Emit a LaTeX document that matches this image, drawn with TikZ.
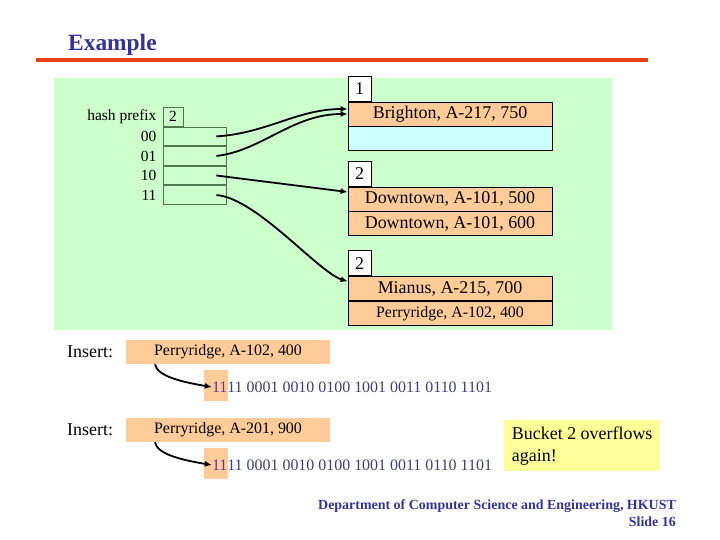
\documentclass[tikz,border=0pt]{standalone}
\usepackage{fontspec}
\setmainfont{Liberation Serif}
\usetikzlibrary{positioning, arrows.meta}
\definecolor{slideblue}{RGB}{51,51,153}
\definecolor{rulered}{RGB}{232,64,16}
\definecolor{bggreen}{RGB}{204,255,204}
\definecolor{recorange}{RGB}{255,204,153}
\definecolor{emptycyan}{RGB}{204,255,255}
\definecolor{noteyellow}{RGB}{255,255,153}
\definecolor{dirline}{RGB}{80,120,80}
\definecolor{bitcolor}{RGB}{64,64,112}
\definecolor{bitprefix}{RGB}{102,51,153}
\newcommand{\titlefont}{\fontsize{23.5}{28}\selectfont\bfseries}
\newcommand{\recfont}{\fontsize{18}{21.5}\selectfont}
\newcommand{\smallrecfont}{\fontsize{16}{19}\selectfont}
\newcommand{\dirfont}{\fontsize{15.5}{18}\selectfont}
\newcommand{\footfont}{\fontsize{14}{17}\selectfont\bfseries}
\tikzset{%
  record/.style={draw, line width=0.8bp, fill=recorange, minimum width=204bp,
    minimum height=24bp, inner sep=0pt, font=\recfont},
  emptyrec/.style={record, fill=emptycyan},
  depthbox/.style={draw, line width=0.8bp, fill=white, minimum width=23bp,
    minimum height=25bp, inner sep=0pt, font=\recfont},
  dircell/.style={draw=dirline, line width=0.8bp, minimum width=63bp,
    minimum height=18.75bp, inner sep=0pt, font=\dirfont},
  dirlabel/.style={inner sep=0pt, font=\dirfont},
  ptr/.style={draw, line width=1.8bp, -{Latex[length=7bp,width=6bp]}},
  newrec/.style={fill=recorange, minimum width=204bp, minimum height=24bp,
    inner sep=0pt, font=\smallrecfont},
  prefixmark/.style={fill=recorange, minimum width=24bp, minimum height=31bp, inner sep=0pt},
  bitstring/.style={inner sep=0pt, anchor=west, text=bitcolor, font=\smallrecfont},
  note/.style={fill=noteyellow, inner xsep=7.5bp, inner ysep=5bp, minimum width=156bp,
    minimum height=51bp, align=left, font=\fontsize{18}{22}\selectfont},
  footer/.style={inner sep=0pt, anchor=base east, text=slideblue, font=\footfont}
}

\begin{document}
\begin{tikzpicture}[x=1bp, y=-1bp]
    \fill[white] (0,0) rectangle (720,540);
    \useasboundingbox (0,0) rectangle (720,540);
    \node[anchor=base west, inner sep=0pt, text=slideblue, font=\titlefont] (title) at (68,51) {Example};
    \draw[line width=4bp, rulered] (36,59.7) -- (648,59.7);
    \fill[bggreen] (54,78) rectangle (612,330);
    % directory
    \node[dircell] (d00) at (194.5,136.4) {};
    \node[dircell, below=0pt of d00] (d01) {};
    \node[dircell, below=0pt of d01] (d10) {};
    \node[dircell, below=0pt of d10] (d11) {};
    \node[dircell, minimum width=20bp, minimum height=19bp, anchor=south west] (hp) at (d00.north west) {2};
    \node[dirlabel, left=6bp of hp] (hplabel) {hash prefix};
    \node[dirlabel, left=6bp of d00] (l00) {00};
    \node[dirlabel, left=6bp of d01] (l01) {01};
    \node[dirlabel, left=6bp of d10] (l10) {10};
    \node[dirlabel, left=6bp of d11] (l11) {11};
    % buckets
    \node[record] (b1a) at (450,114) {Brighton, A-217, 750};
    \node[emptyrec, below=0pt of b1a] (b1b) {};
    \node[depthbox, anchor=south west] (b1d) at (b1a.north west) {1};
    \node[record] (b2a) at (450,199) {Downtown, A-101, 500};
    \node[record, below=0pt of b2a] (b2b) {Downtown, A-101, 600};
    \node[depthbox, anchor=south west] (b2d) at (b2a.north west) {2};
    \node[record] (b3a) at (450,288.5) {Mianus, A-215, 700};
    \node[record, font=\smallrecfont, below=0pt of b3a] (b3b) {Perryridge, A-102, 400};
    \node[depthbox, anchor=south west] (b3d) at (b3a.north west) {2};
    \draw[ptr] ([xshift=-10bp]d00.east) .. controls +(50,-3) and +(-50,0) .. ([yshift=5bp]b1a.west);
    \draw[ptr] ([xshift=-10bp]d01.east) .. controls +(45,-5) and +(-55,0) .. (b1a.west);
    \draw[ptr] ([xshift=-10bp]d10.east) -- ([yshift=7bp]b2a.west);
    \draw[ptr] ([xshift=-10bp]d11.east) .. controls +(40,3) and +(-30,-10) .. ([yshift=7bp]b3a.west);
    % inserts
    \node[anchor=base west, inner sep=0pt, font=\recfont] (ins1) at (67,357) {Insert:};
    \node[newrec] (new1) at (228,352) {Perryridge, A-102, 400};
    \node[prefixmark] (hl1) at (216,385.5) {};
    \node[bitstring] (bits1) at ([xshift=8bp, yshift=-1.5bp]hl1.west) {{\color{bitprefix}11}11 0001 0010 0100 1001 0011 0110 1101};
    \draw[ptr] ([xshift=-73bp]new1.south) .. controls +(2,12) and +(-30,-5) .. (bits1.west);
    \node[anchor=base west, inner sep=0pt, font=\recfont] (ins2) at (67,435) {Insert:};
    \node[newrec] (new2) at (228,430) {Perryridge, A-201, 900};
    \node[prefixmark] (hl2) at (216,463.5) {};
    \node[bitstring] (bits2) at ([xshift=8bp, yshift=-1.5bp]hl2.west) {{\color{bitprefix}11}11 0001 0010 0100 1001 0011 0110 1101};
    \draw[ptr] ([xshift=-73bp]new2.south) .. controls +(2,12) and +(-30,-5) .. (bits2.west);
    \node[note, anchor=north west] (warn) at (504,420) {Bucket 2 overflows\\again!};
    \node[footer] (dept) at (676,509) {Department of Computer Science and Engineering, HKUST};
    \node[footer] (slide) at ([yshift=-17bp]dept.base east) {Slide 16};
\end{tikzpicture}
\end{document}
